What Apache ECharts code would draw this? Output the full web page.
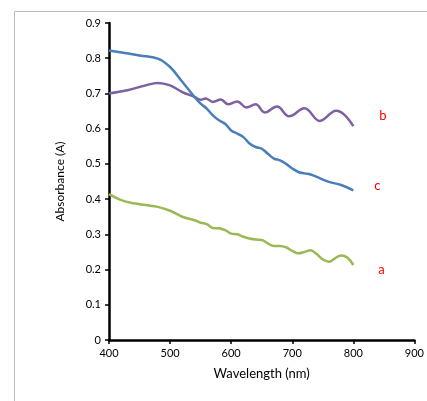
<!DOCTYPE html>
<html>
<head>
<meta charset="utf-8">
<script src="https://cdn.jsdelivr.net/npm/echarts@6/dist/echarts.min.js"></script>
<style>
  html, body { margin: 0; padding: 0; background: #fff; }
  #chart { width: 427px; height: 401px; }
</style>
</head>
<body>
<div id="chart"></div>
<script>
// curve a (green)
var waveA = [400, 420, 440, 460, 480, 500, 520, 540, 550, 560, 570, 580, 590, 600, 610, 620, 630, 640, 650, 660, 670, 680, 690, 700, 710, 720, 730, 740, 750, 760, 770, 780, 790, 800]
var absA = [0.414, 0.397, 0.388, 0.383, 0.378, 0.367, 0.350, 0.340, 0.333, 0.329, 0.318, 0.317, 0.312, 0.302, 0.300, 0.293, 0.288, 0.285, 0.284, 0.274, 0.267, 0.267, 0.263, 0.253, 0.246, 0.250, 0.255, 0.244, 0.229, 0.222, 0.232, 0.240, 0.234, 0.213]

// curve b (purple)
var waveB = [400, 430, 460, 480, 500, 520, 540, 550, 558, 570, 583, 595, 610, 625, 640, 655, 675, 695, 720, 745, 772, 785, 800]
var absB = [0.700, 0.709, 0.723, 0.730, 0.723, 0.704, 0.690, 0.682, 0.686, 0.676, 0.683, 0.669, 0.677, 0.660, 0.669, 0.646, 0.663, 0.635, 0.658, 0.622, 0.651, 0.640, 0.607]

// curve c (blue)
var waveC = [400, 450, 480, 500, 520, 540, 550, 560, 570, 580, 590, 600, 610, 620, 630, 640, 650, 660, 670, 680, 690, 700, 710, 720, 730, 740, 760, 780, 800]
var absC = [0.822, 0.808, 0.799, 0.775, 0.733, 0.690, 0.671, 0.657, 0.638, 0.624, 0.614, 0.595, 0.586, 0.576, 0.558, 0.548, 0.543, 0.529, 0.515, 0.510, 0.500, 0.487, 0.477, 0.473, 0.470, 0.463, 0.449, 0.440, 0.425]

var curveLabels = ['a', 'b', 'c']

function pairs(xs, ys) {
  return xs.map(function(x, i) { return [x, ys[i]] })
}

var font = 'Lato, "Open Sans", sans-serif'
var chart = echarts.init(document.getElementById('chart'))

function line(name, data, color, labelPos) {
  return {
    name: name,
    type: 'line',
    smooth: 0.4,
    showSymbol: false,
    data: data,
    lineStyle: { color: color, width: 2.5 },
    endLabel: {
      show: true,
      formatter: name,
      color: '#ff0000',
      fontSize: 13,
      fontFamily: font,
      offset: labelPos
    }
  }
}

chart.setOption({
  animation: false,
  backgroundColor: '#fff',
  graphic: [{
    type: 'rect',
    shape: { x: 14.5, y: 11.5, width: 430, height: 400 },
    style: { fill: 'none', stroke: '#bcbcbc', lineWidth: 1 }
  }],
  grid: { left: 109, right: 8, top: 23, bottom: 61 },
  xAxis: {
    type: 'value',
    min: 400,
    max: 900,
    interval: 100,
    name: 'Wavelength (nm)',
    nameLocation: 'middle',
    nameGap: 27,
    nameTextStyle: { color: '#000', fontSize: 13, fontFamily: font },
    axisLine: { lineStyle: { color: '#000', width: 2.5 } },
    axisTick: { length: 4, lineStyle: { color: '#000', width: 1.5 } },
    axisLabel: { color: '#000', fontSize: 11, fontFamily: font, margin: 8, showMaxLabel: true },
    splitLine: { show: false }
  },
  yAxis: {
    type: 'value',
    min: 0,
    max: 0.9,
    interval: 0.1,
    name: 'Absorbance (A)',
    nameLocation: 'middle',
    nameGap: 43,
    nameTextStyle: { color: '#000', fontSize: 12, fontFamily: font },
    axisLine: { show: true, lineStyle: { color: '#000', width: 2.5 } },
    axisTick: { show: true, length: 4, lineStyle: { color: '#000', width: 1.5 } },
    axisLabel: { color: '#000', fontSize: 11, fontFamily: font, margin: 8 },
    splitLine: { show: false }
  },
  series: [
    line(curveLabels[0], pairs(waveA, absA), '#98b954', [17, 5]),
    line(curveLabels[1], pairs(waveB, absB), '#7e5fa1', [18, -10]),
    line(curveLabels[2], pairs(waveC, absC), '#4a7ebb', [13, -4])
  ]
})
</script>
</body>
</html>
